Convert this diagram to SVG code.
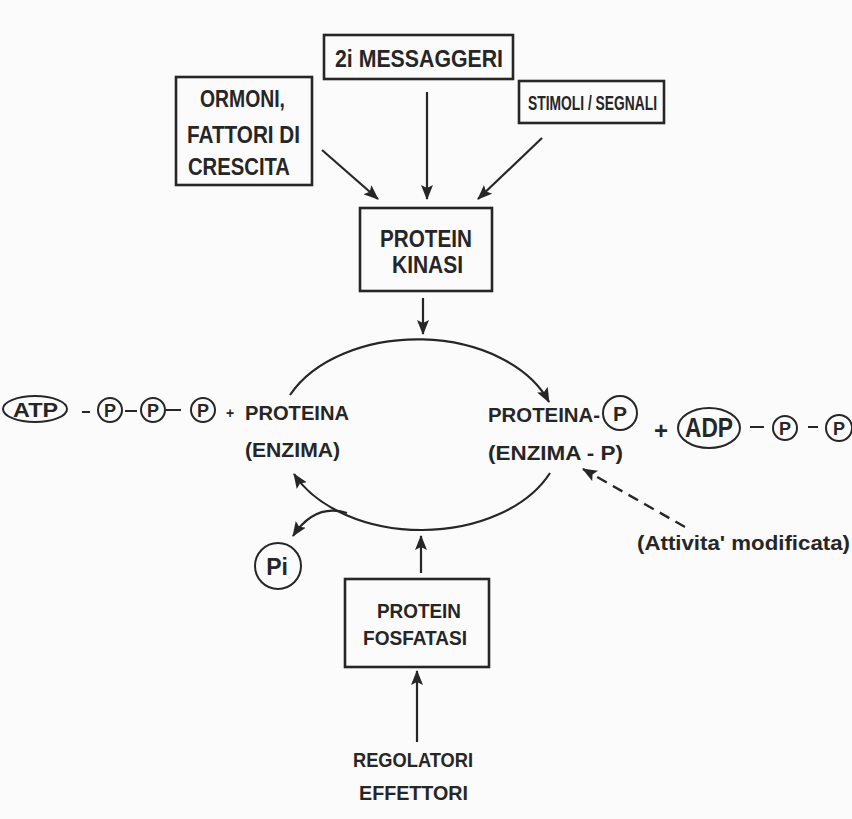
<svg xmlns="http://www.w3.org/2000/svg" width="852" height="819" viewBox="0 0 852 819">
<defs>
<style>
.bg{fill:#fbfbfb}
.box{fill:none;stroke:#262626;stroke-width:2.6}
.ln{fill:none;stroke:#262626;stroke-width:2.2}
.dash{fill:none;stroke:#262626;stroke-width:2.4;stroke-dasharray:11 7}
.t{font-family:"Liberation Sans","DejaVu Sans",Arial,sans-serif;font-weight:bold;font-size:21px;fill:#262626}
.b{font-size:23px}
.s{font-family:"Liberation Sans","DejaVu Sans",Arial,sans-serif;font-weight:bold;font-size:18px;fill:#262626;text-anchor:middle}
.c{fill:none;stroke:#262626;stroke-width:2}
</style>
<marker id="ah" markerUnits="userSpaceOnUse" markerWidth="16" markerHeight="12" refX="14" refY="6" orient="auto">
<path d="M0,0 L15,6 L0,12 L3,6 Z" fill="#262626"/>
</marker>
</defs>
<rect class="bg" x="0" y="0" width="852" height="819"/>

<g id="messaggeri">
<rect class="box" x="324" y="35" width="189" height="44"/>
<text class="t b" x="335" y="67" textLength="168" lengthAdjust="spacingAndGlyphs">2i MESSAGGERI</text>
</g>
<g id="ormoni">
<rect class="box" x="176" y="77" width="136" height="108"/>
<text class="t b" x="200" y="107" textLength="85" lengthAdjust="spacingAndGlyphs">ORMONI,</text>
<text class="t b" x="187" y="143" textLength="113" lengthAdjust="spacingAndGlyphs">FATTORI DI</text>
<text class="t b" x="188" y="175" textLength="102" lengthAdjust="spacingAndGlyphs">CRESCITA</text>
</g>
<g id="stimoli">
<rect class="box" x="519" y="81" width="145" height="42"/>
<text class="t" x="528" y="110" textLength="129" lengthAdjust="spacingAndGlyphs">STIMOLI / SEGNALI</text>
</g>
<g id="kinasi">
<rect class="box" x="360" y="208" width="132" height="83"/>
<text class="t b" x="380" y="247" textLength="92" lengthAdjust="spacingAndGlyphs">PROTEIN</text>
<text class="t b" x="392" y="273" textLength="71" lengthAdjust="spacingAndGlyphs">KINASI</text>
</g>
<g id="proteina">
<text class="t" x="245" y="420" textLength="104" lengthAdjust="spacingAndGlyphs">PROTEINA</text>
<text class="t" x="245" y="457" textLength="95" lengthAdjust="spacingAndGlyphs">(ENZIMA)</text>
</g>
<g id="atp">
<ellipse class="c" cx="35" cy="409" rx="32" ry="13"/>
<text class="t" x="13" y="417" textLength="45" lengthAdjust="spacingAndGlyphs">ATP</text>
<path class="ln" d="M82,412 H90 M125,411 H137 M166,410 H181"/>
<circle class="c" cx="110" cy="410" r="12"/>
<text class="s" x="110" y="417">P</text>
<circle class="c" cx="153" cy="410" r="12"/>
<text class="s" x="153" y="417">P</text>
<circle class="c" cx="203" cy="410" r="12"/>
<text class="s" x="203" y="417">P</text>
<text class="s" x="230" y="418" style="font-size:14px">+</text>
</g>
<g id="proteinaP">
<text class="t" x="488" y="422" textLength="112" lengthAdjust="spacingAndGlyphs">PROTEINA-</text>
<circle class="c" cx="620" cy="413" r="17"/>
<text class="s" x="620" y="421" style="font-size:21px">P</text>
<text class="t" x="488" y="460" textLength="135" lengthAdjust="spacingAndGlyphs">(ENZIMA - P)</text>
</g>
<g id="adp">
<text class="s" x="661" y="439" style="font-size:24px">+</text>
<ellipse class="c" cx="709" cy="428" rx="31" ry="20"/>
<text class="t" x="685" y="437" style="font-size:27px" textLength="48" lengthAdjust="spacingAndGlyphs">ADP</text>
<path class="ln" d="M750,427 H764 M808,427 H818"/>
<circle class="c" cx="785" cy="428" r="12"/>
<text class="s" x="785" y="435">P</text>
<circle class="c" cx="839" cy="428" r="13"/>
<text class="s" x="839" y="435">P</text>
</g>
<g id="attivita">
<text class="t" x="637" y="550" textLength="213" lengthAdjust="spacingAndGlyphs">(Attivita' modificata)</text>
</g>
<g id="pi">
<circle class="c" cx="278" cy="566" r="23"/>
<text class="s" x="277" y="575" style="font-size:23px">Pi</text>
</g>
<g id="fosfatasi">
<rect class="box" x="345" y="579" width="144" height="88"/>
<text class="t" x="377" y="618" textLength="84" lengthAdjust="spacingAndGlyphs">PROTEIN</text>
<text class="t" x="363" y="645" textLength="104" lengthAdjust="spacingAndGlyphs">FOSFATASI</text>
</g>
<g id="regolatori">
<text class="t" x="353" y="767" textLength="120" lengthAdjust="spacingAndGlyphs">REGOLATORI</text>
<text class="t" x="359" y="800" textLength="109" lengthAdjust="spacingAndGlyphs">EFFETTORI</text>
</g>

<g id="connectors">
<path class="ln" d="M322,150 L378,199" marker-end="url(#ah)"/>
<path class="ln" d="M427,92 L427,199" marker-end="url(#ah)"/>
<path class="ln" d="M542,138 L478,199" marker-end="url(#ah)"/>
<path class="ln" d="M423,298 L423,334" marker-end="url(#ah)"/>
<path class="ln" d="M290,395 A140,95 0 0 1 549,402" marker-end="url(#ah)"/>
<path class="ln" d="M550,473 A140,95 0 0 1 294,474" marker-end="url(#ah)"/>
<path class="ln" d="M347,513 Q315,503 293,536" marker-end="url(#ah)"/>
<path class="ln" d="M421,573 L421,536" marker-end="url(#ah)"/>
<path class="ln" d="M417,742 L417,671" marker-end="url(#ah)"/>
<path class="dash" d="M685,527 L583,469" marker-end="url(#ah)"/>
</g>
</svg>
